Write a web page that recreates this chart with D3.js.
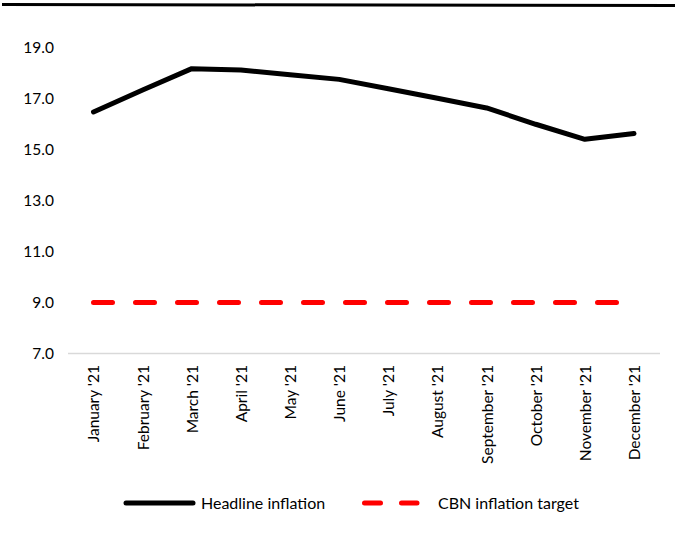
<!DOCTYPE html>
<html><head><meta charset="utf-8">
<script src="https://cdn.jsdelivr.net/npm/d3@7"></script>
<style>body{margin:0;background:#fff}svg{display:block;font-family:Lato,"Open Sans",sans-serif}</style>
</head><body><svg id="c" width="675" height="542"></svg>
<script>
const months = ["January '21","February '21","March '21","April '21","May '21","June '21","July '21","August '21","September '21","October '21","November '21","December '21"];
const headline = [16.47,17.33,18.17,18.12,17.93,17.75,17.38,17.01,16.63,15.99,15.40,15.63];
const target = [9,9,9,9,9,9,9,9,9,9,9,9];
const yTicks = [7,9,11,13,15,17,19];
const seriesNames = ["Headline inflation","CBN inflation target"];

const svg = d3.select("#c");
const x = d3.scalePoint().domain(months).range([93.5, 634]);
const y = d3.scaleLinear().domain([7,19]).range([353.5,47.5]);

// top rule
svg.append("line").attr("x1",2).attr("x2",675).attr("y1",4.5).attr("y2",5.5)
  .attr("stroke","#000").attr("stroke-width",3);

// y axis labels
const ya = svg.append("g").attr("transform","translate(54,0)")
  .call(d3.axisLeft(y).tickValues(yTicks).tickSize(0).tickPadding(0).tickFormat(d3.format(".1f")));
ya.select(".domain").remove();
ya.selectAll("text").attr("font-size",15.5).attr("fill","#000").attr("font-family","Lato");

// x axis
const xa = svg.append("g").attr("transform","translate(0,353)")
  .call(d3.axisBottom(x).tickSize(0).tickPadding(0));
xa.select(".domain").remove();
svg.append("line").attr("x1",68).attr("x2",660).attr("y1",353.5).attr("y2",353.5).attr("stroke","#d9d9d9").attr("stroke-width",1.5);
xa.selectAll("text").attr("font-size",15.5).attr("fill","#000").attr("font-family","Lato")
  .attr("text-anchor","end").attr("dy","0.35em")
  .attr("transform",d=>`translate(0,12) rotate(-90)`).attr("x",0).attr("y",0);

const line = d3.line().x((d,i)=>x(months[i])).y(d=>y(d));
svg.append("path").datum(target).attr("d",line).attr("fill","none")
  .attr("stroke","#ff0000").attr("stroke-width",5).attr("stroke-linecap","round").attr("stroke-dasharray","19 23");
svg.append("path").datum(headline).attr("d",line).attr("fill","none")
  .attr("stroke","#000").attr("stroke-width",5).attr("stroke-linecap","round").attr("stroke-linejoin","round");

// legend
const lg = svg.append("g");
lg.append("line").attr("x1",126).attr("x2",193).attr("y1",503).attr("y2",503).attr("stroke","#000").attr("stroke-width",5).attr("stroke-linecap","round");
lg.append("text").attr("x",201).attr("y",503).attr("dy","0.35em").attr("font-size",16).text(seriesNames[0]);
lg.append("line").attr("x1",364.5).attr("x2",417).attr("y1",503).attr("y2",503).attr("stroke","#ff0000").attr("stroke-width",5).attr("stroke-linecap","round").attr("stroke-dasharray","16 21");
lg.append("text").attr("x",438).attr("y",503).attr("dy","0.35em").attr("font-size",16).text(seriesNames[1]);
</script></body></html>
